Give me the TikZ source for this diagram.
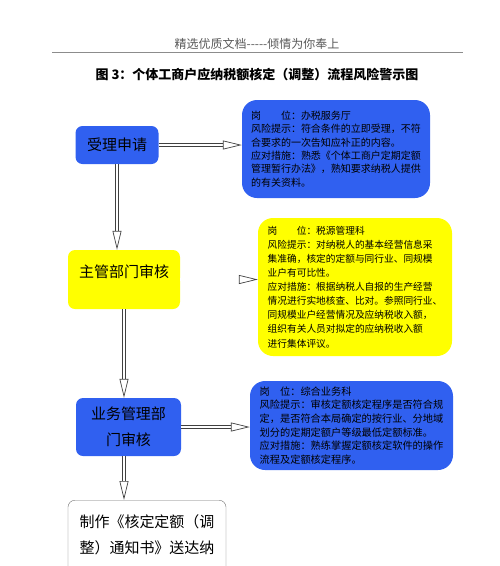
\documentclass[tikz,border=0pt]{standalone}
\usepackage{fontspec}
\setmainfont{Noto Sans CJK SC}
\usepackage{tikz}
\usetikzlibrary{arrows.meta}
\definecolor{flowblue}{RGB}{48,96,240}
\definecolor{flowyellow}{RGB}{255,255,0}

\begin{document}
\begin{tikzpicture}[x=1pt, y=-1pt,
    box/.style={rectangle, rounded corners=7pt, inner sep=0pt, align=center, font=\fontsize{15}{26}\selectfont},
    post/.style={rectangle, rounded corners=15pt, inner sep=0pt, align=left},
    arrow/.style={double, double distance=2.2pt, line width=0.85pt, draw=black!75, -{Triangle[open, length=19pt, width=9pt, line width=0.7pt]}}
]
\path[use as bounding box, clip] (0,0) rectangle (500,566);

\node[font=\fontsize{12}{14}\selectfont, text=black!65] (head) at (257,44) {精选优质文档{-}{-}{-}{-}{-}倾情为你奉上};
\draw[black!45, line width=0.6pt] (52,52) -- (463,52);
\node[font=\bfseries\fontsize{13}{16}\selectfont] (title) at (257,75) {图 3：个体工商户应纳税额核定（调整）流程风险警示图};

\node[box, fill=flowblue, minimum width=83pt, minimum height=38pt] (accept) at (117,145) {受理申请};
\node[post, fill=flowblue, minimum width=188pt, minimum height=98pt, font=\fontsize{10}{13.4}\selectfont] (post1) at (336,149)
  {岗　　位：办税服务厅\\
   风险提示：符合条件的立即受理，不符\\
   合要求的一次告知应补正的内容。\\
   应对措施：熟悉《个体工商户定期定额\\
   管理暂行办法》，熟知要求纳税人提供\\
   的有关资料。};

\node[box, fill=flowyellow, minimum width=112pt, text height=27pt, text depth=32pt] (review) at (124,279.5) {主管部门审核};
\node[post, fill=flowyellow, minimum width=194pt, minimum height=138pt, font=\fontsize{9.7}{14.1}\selectfont] (post2) at (355,287)
  {岗　　位：税源管理科\\
   风险提示：对纳税人的基本经营信息采\\
   集准确，核定的定额与同行业、同规模\\
   业户有可比性。\\
   应对措施：根据纳税人自报的生产经营\\
   情况进行实地核查、比对。参照同行业、\\
   同规模业户经营情况及应纳税收入额，\\
   组织有关人员对拟定的应纳税收入额\\
   进行集体评议。};

\node[box, fill=flowblue, minimum width=105pt, minimum height=58pt] (biz) at (128.5,427) {业务管理部\\门审核};
\node[post, fill=flowblue, minimum width=203pt, minimum height=89pt, font=\fontsize{10.2}{13.6}\selectfont] (post3) at (351.5,425.5)
  {岗　位：综合业务科\\
   风险提示：审核定额核定程序是否符合规\\
   定，是否符合本局确定的按行业、分地域\\
   划分的定期定额户等级最低定额标准。\\
   应对措施：熟练掌握定额核定软件的操作\\
   流程及定额核定程序。};

\node[box, draw=black!55, fill=white, anchor=north, minimum width=158pt, inner ysep=14pt] (notice) at (147,500)
  {制作《核定定额（调\\整）通知书》送达纳\\税人};

\draw[arrow] (accept.south) -- (accept.south |- review.north);
\draw[arrow] (review.south) -- (review.south |- biz.north);
\draw[arrow] ([xshift=-4.5pt]biz.south) -- ([xshift=-4.5pt]biz.south |- notice.north);
\draw[arrow] (accept.east) -- (accept.east -| post1.west);
\draw[arrow] (review.east) -- (review.east -| post2.west);
\draw[arrow] (biz.east) -- (biz.east -| post3.west);
\end{tikzpicture}
\end{document}
